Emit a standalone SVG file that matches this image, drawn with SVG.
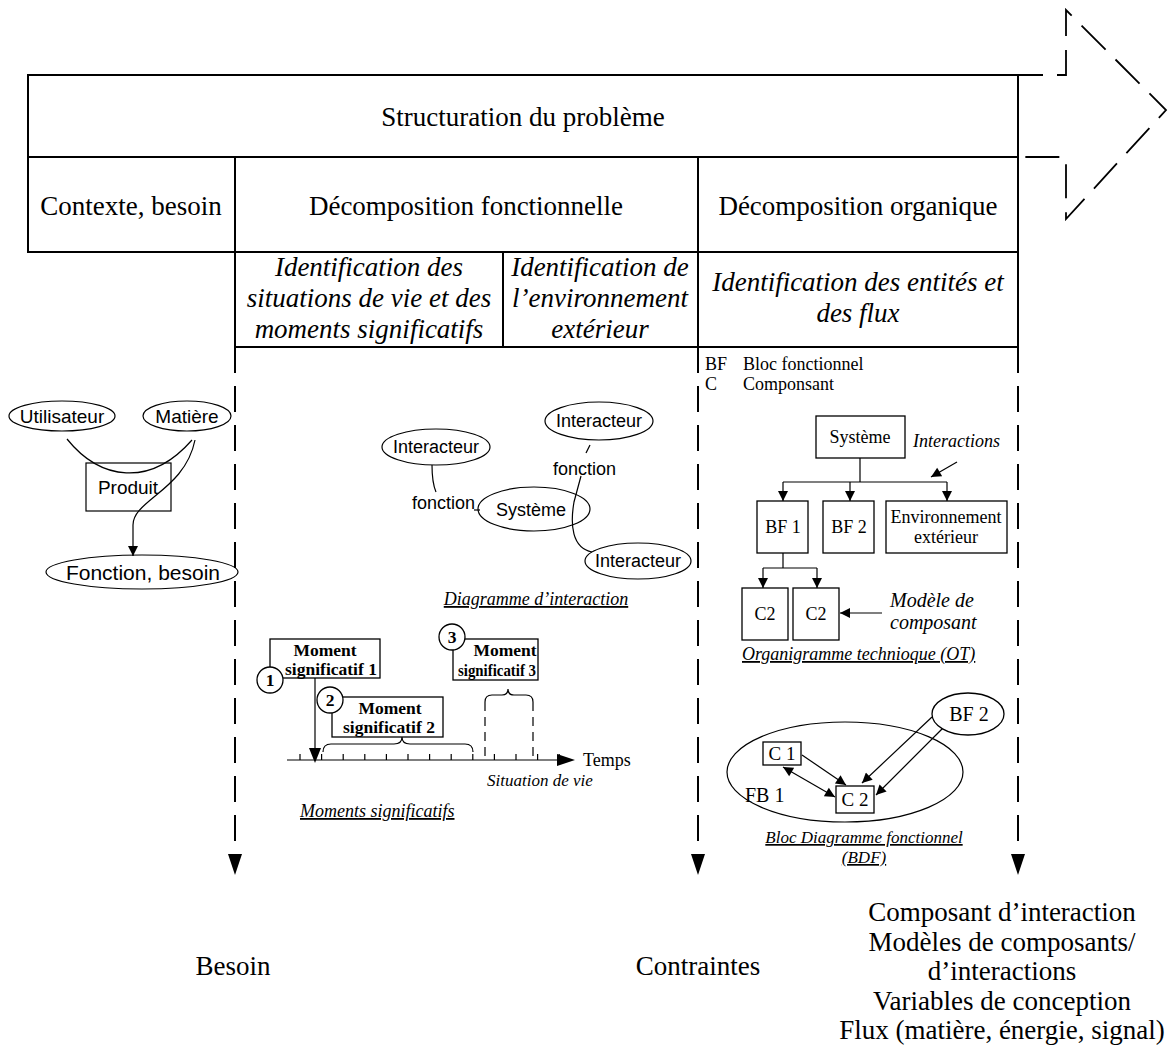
<svg xmlns="http://www.w3.org/2000/svg" width="1176" height="1053" viewBox="0 0 1176 1053">
<defs>
<style>
.tb{fill:none;stroke:#000;stroke-width:2}
.bx{fill:#fff;stroke:#000;stroke-width:1.3}
.ln{fill:none;stroke:#000;stroke-width:1.2}
.dsh{fill:none;stroke:#000;stroke-width:2;stroke-dasharray:26 13}
.serif{font-family:"Liberation Serif","Times New Roman",serif;fill:#000}
.sans{font-family:"Liberation Sans",Arial,sans-serif;fill:#000}
.h{font-size:27px}
.hi{font-size:27px;font-style:italic}
.s19{font-size:19px}
.s18{font-size:18px}
.it18{font-size:18px;font-style:italic}
.it17{font-size:17px;font-style:italic}
.ul{text-decoration:underline}
.bold{font-size:17.5px;font-weight:bold}
</style>
<marker id="arr" viewBox="0 0 10 10" refX="10" refY="5" markerWidth="12" markerHeight="10" markerUnits="userSpaceOnUse" orient="auto-start-reverse">
<path d="M0,0 L10,5 L0,10 z" fill="#000"/>
</marker>
</defs>
<rect width="1176" height="1053" fill="#fff"/>

<g id="table">
<rect class="tb" x="28" y="75" width="990" height="82"/>
<rect class="tb" x="28" y="157" width="207" height="95"/>
<rect class="tb" x="235" y="157" width="463" height="95"/>
<rect class="tb" x="698" y="157" width="320" height="95"/>
<rect class="tb" x="235" y="252" width="268" height="95"/>
<rect class="tb" x="503" y="252" width="195" height="95"/>
<rect class="tb" x="698" y="252" width="320" height="95"/>
<text class="serif h" x="523" y="126" text-anchor="middle">Structuration du problème</text>
<text class="serif h" x="131" y="215" text-anchor="middle">Contexte, besoin</text>
<text class="serif h" x="466" y="215" text-anchor="middle">Décomposition fonctionnelle</text>
<text class="serif h" x="858" y="215" text-anchor="middle">Décomposition organique</text>
<text class="serif hi" x="369" y="276" text-anchor="middle">Identification des</text>
<text class="serif hi" x="369" y="307" text-anchor="middle">situations de vie et des</text>
<text class="serif hi" x="369" y="338" text-anchor="middle">moments significatifs</text>
<text class="serif hi" x="600" y="276" text-anchor="middle">Identification de</text>
<text class="serif hi" x="600" y="307" text-anchor="middle">l’environnement</text>
<text class="serif hi" x="600" y="338" text-anchor="middle">extérieur</text>
<text class="serif hi" x="858" y="291" text-anchor="middle">Identification des entités et</text>
<text class="serif hi" x="858" y="322" text-anchor="middle">des flux</text>
</g>

<g id="connectors">
<path d="M1018,75 H1066 V10 L1166,110 L1066,219 V157 H1018" fill="none" stroke="#000" stroke-width="1.8" stroke-dasharray="34 14" stroke-dashoffset="9"/>
<path class="dsh" d="M235,347 V850"/>
<path class="dsh" d="M698,347 V850"/>
<path class="dsh" d="M1018,347 V850"/>
<polygon points="228,854 242,854 235,875" fill="#000"/>
<polygon points="691,854 705,854 698,875" fill="#000"/>
<polygon points="1011,854 1025,854 1018,875" fill="#000"/>
<!-- left diagram -->
<path class="ln" d="M67,439 C100,480 150,488 192,440"/>
<path class="ln" d="M195,440 C185,490 133,500 133,525 L133,556" marker-end="url(#arr)"/>
<!-- interaction diagram -->
<path class="ln" d="M432,465 C432,475 433,485 436,492"/>
<path class="ln" d="M474,510 L480,510"/>
<path class="ln" d="M590,445 L586,453"/>
<path class="ln" d="M581,476 L574,502 C570,525 572,548 592,552"/>
<!-- moments -->
<path class="ln" d="M315,678 V750" stroke-width="1.5"/>
<polygon points="309,748 321,748 315,763" fill="#000"/>
<path class="ln" d="M287,760 H558" stroke-width="1.5"/>
<polygon points="557,754 575,760 557,766" fill="#000"/>
<path class="ln" d="M300,754V760M321.6,754V760M343.2,754V760M364.8,754V760M386.4,754V760M408,754V760M429.6,754V760M451.2,754V760M472.8,754V760M494.4,754V760M516,754V760M537.6,754V760M559.2,754V760"/>
<path class="ln" d="M323,752 Q323,744 331,744 L394,744 Q402,744 402,737 Q402,744 410,744 L465,744 Q473,744 473,752"/>
<path class="ln" d="M485,702 Q485,695 492,695 L502,695 Q508,695 508,689 Q508,695 514,695 L526,695 Q533,695 533,702"/>
<path class="ln" d="M485,702 V760 M533,702 V760" stroke-dasharray="9 6"/>
<!-- OT -->
<path class="ln" d="M860,458 V482 M783,482 H947"/>
<path class="ln" d="M783,482 V501" marker-end="url(#arr)"/>
<path class="ln" d="M850,482 V501" marker-end="url(#arr)"/>
<path class="ln" d="M947,482 V501" marker-end="url(#arr)"/>
<path class="ln" d="M957,462 L931,477" marker-end="url(#arr)"/>
<path class="ln" d="M783,553 V568 M763,568 H817"/>
<path class="ln" d="M763,568 V588" marker-end="url(#arr)"/>
<path class="ln" d="M817,568 V588" marker-end="url(#arr)"/>
<path class="ln" d="M882,613 H840" marker-end="url(#arr)"/>
<!-- BDF -->
<path class="ln" d="M802,755 L846,785" marker-end="url(#arr)"/>
<path class="ln" d="M783,767 L835,797" marker-start="url(#arr)" marker-end="url(#arr)"/>
<path class="ln" d="M932,717 L862,783" marker-end="url(#arr)"/>
<path class="ln" d="M943,728 L876,795" marker-end="url(#arr)"/>
</g>

<g id="utilisateur"><ellipse class="ln" cx="62" cy="416" rx="53" ry="15"/><text class="sans s19" x="62" y="423" text-anchor="middle">Utilisateur</text></g>
<g id="matiere"><ellipse class="ln" cx="187" cy="416" rx="44" ry="15"/><text class="sans s19" x="187" y="423" text-anchor="middle">Matière</text></g>
<g id="produit"><rect class="ln" x="86" y="463" width="85" height="48"/><text class="sans s19" x="128" y="494" text-anchor="middle">Produit</text></g>
<g id="fonction-besoin"><ellipse class="ln" cx="142" cy="572" rx="96" ry="17"/><text class="sans" font-size="21" x="143" y="580" text-anchor="middle">Fonction, besoin</text></g>

<g id="interacteur1"><ellipse class="ln" cx="436" cy="447" rx="54" ry="18"/><text class="sans s18" x="436" y="453" text-anchor="middle">Interacteur</text></g>
<g id="interacteur2"><ellipse class="ln" cx="599" cy="421" rx="54" ry="19"/><text class="sans s18" x="599" y="427" text-anchor="middle">Interacteur</text></g>
<g id="systeme-int"><ellipse class="ln" cx="534" cy="509" rx="56" ry="22"/><text class="sans s18" x="531" y="516" text-anchor="middle">Système</text></g>
<g id="interacteur3"><ellipse class="ln" cx="638" cy="561" rx="53" ry="18"/><text class="sans s18" x="638" y="567" text-anchor="middle">Interacteur</text></g>
<g id="fonction-labels">
<text class="sans s18" x="412" y="509">fonction</text>
<text class="sans s18" x="553" y="475">fonction</text>
</g>
<g id="diag-interaction-label"><text class="serif it18 ul" x="536" y="605" text-anchor="middle">Diagramme d’interaction</text></g>

<g id="moment1"><rect class="bx" x="270" y="639" width="110" height="39"/><text class="serif bold" x="325" y="656" text-anchor="middle">Moment</text><text class="serif bold" x="331" y="675" text-anchor="middle">significatif 1</text><circle class="bx" cx="270" cy="680" r="13"/><text class="serif bold" x="270" y="686" text-anchor="middle">1</text></g>
<g id="moment2"><rect class="bx" x="332" y="697" width="111" height="40"/><text class="serif bold" x="390" y="714" text-anchor="middle">Moment</text><text class="serif bold" x="389" y="733" text-anchor="middle">significatif 2</text><circle class="bx" cx="330" cy="700" r="13"/><text class="serif bold" x="330" y="706" text-anchor="middle">2</text></g>
<g id="moment3"><rect class="bx" x="453" y="639" width="85" height="41"/><text class="serif bold" x="505" y="656" text-anchor="middle">Moment</text><text class="serif" font-size="16.5" font-weight="bold" x="497" y="676" text-anchor="middle" textLength="78" lengthAdjust="spacingAndGlyphs">significatif 3</text><circle class="bx" cx="452" cy="637" r="13"/><text class="serif bold" x="452" y="643" text-anchor="middle">3</text></g>
<g id="timeline-labels">
<text class="serif s18" x="583" y="766">Temps</text>
<text class="serif it17" x="487" y="786">Situation de vie</text>
<text class="serif it18 ul" x="300" y="817">Moments significatifs</text>
</g>

<g id="legend">
<text class="serif s18" x="705" y="370">BF</text><text class="serif s18" x="743" y="370">Bloc fonctionnel</text>
<text class="serif s18" x="705" y="390">C</text><text class="serif s18" x="743" y="390">Componsant</text>
</g>
<g id="systeme-ot"><rect class="bx" x="816" y="416" width="89" height="42"/><text class="serif s18" x="860" y="443" text-anchor="middle">Système</text></g>
<g id="interactions-label"><text class="serif it18" x="913" y="447">Interactions</text></g>
<g id="bf1"><rect class="bx" x="757" y="501" width="51" height="52"/><text class="serif s18" x="783" y="533" text-anchor="middle">BF 1</text></g>
<g id="bf2"><rect class="bx" x="823" y="501" width="51" height="52"/><text class="serif s18" x="849" y="533" text-anchor="middle">BF 2</text></g>
<g id="env-ext"><rect class="bx" x="886" y="501" width="121" height="52"/><text class="serif s18" x="946" y="523" text-anchor="middle">Environnement</text><text class="serif s18" x="946" y="543" text-anchor="middle">extérieur</text></g>
<g id="c2a"><rect class="bx" x="742" y="588" width="46" height="52"/><text class="serif s18" x="765" y="620" text-anchor="middle">C2</text></g>
<g id="c2b"><rect class="bx" x="793" y="588" width="46" height="52"/><text class="serif s18" x="816" y="620" text-anchor="middle">C2</text></g>
<g id="modele-label"><text class="serif" font-size="20" font-style="italic" x="890" y="607">Modèle de</text><text class="serif" font-size="20" font-style="italic" x="890" y="629">composant</text></g>
<g id="ot-label"><text class="serif it18 ul" x="742" y="660">Organigramme technioque (OT)</text></g>

<g id="fb1"><ellipse class="ln" cx="845" cy="772" rx="118" ry="50" fill="none"/><text class="serif" font-size="20" x="745" y="802">FB 1</text></g>
<g id="bf2-bdf"><ellipse class="bx" cx="968" cy="714" rx="36" ry="21"/><text class="serif" font-size="20" x="969" y="721" text-anchor="middle">BF 2</text></g>
<g id="c1"><rect class="bx" x="763" y="742" width="38" height="23"/><text class="serif" font-size="19" x="782" y="760" text-anchor="middle">C 1</text></g>
<g id="c2-bdf"><rect class="bx" x="836" y="786" width="38" height="27"/><text class="serif" font-size="19" x="855" y="806" text-anchor="middle">C 2</text></g>
<g id="bdf-label"><text class="serif it17 ul" x="864" y="843" text-anchor="middle">Bloc Diagramme fonctionnel</text><text class="serif it17 ul" x="864" y="863" text-anchor="middle">(BDF)</text></g>

<g id="outputs">
<text class="serif h" x="233" y="975" text-anchor="middle">Besoin</text>
<text class="serif h" x="698" y="975" text-anchor="middle">Contraintes</text>
<text class="serif h" x="1002" y="921" text-anchor="middle">Composant d’interaction</text>
<text class="serif h" x="1002" y="951" text-anchor="middle">Modèles de composants/</text>
<text class="serif h" x="1002" y="980" text-anchor="middle">d’interactions</text>
<text class="serif h" x="1002" y="1010" text-anchor="middle">Variables de conception</text>
<text class="serif h" x="1002" y="1039" text-anchor="middle">Flux (matière, énergie, signal)</text>
</g>
</svg>
